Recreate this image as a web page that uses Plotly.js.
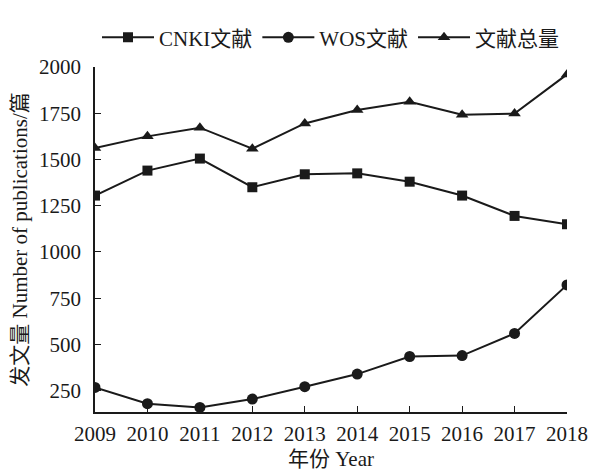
<!DOCTYPE html>
<html>
<head>
<meta charset="utf-8">
<script src="https://cdn.plot.ly/plotly-3.0.1.min.js"></script>
<style>
  html, body { margin: 0; padding: 0; background: #fff; }
  #divplot { width: 600px; height: 475px; }
</style>
</head>
<body>
<div id="divplot"></div>
<script>
var years = [2009, 2010, 2011, 2012, 2013, 2014, 2015, 2016, 2017, 2018];
var cnki = [1305, 1440, 1505, 1350, 1420, 1425, 1380, 1305, 1195, 1150];
var wos = [268, 180, 160, 205, 272, 340, 435, 440, 560, 822];
var total = [1562, 1625, 1672, 1558, 1695, 1768, 1812, 1742, 1748, 1960];
var tickVals = [250, 500, 750, 1000, 1250, 1500, 1750, 2000];

var fontFam = '"Liberation Serif", "Times New Roman", "Noto Sans CJK SC", serif';
var ink = '#1a1a1a';

var mkTrace = function(y, name, symbol, size){
    return {
        x: years,
        y: y,
        name: name,
        type: 'scatter',
        mode: 'lines+markers',
        line: {color: ink, width: 2},
        marker: {symbol: symbol, size: size, color: ink}
    };
};

var traceData = [
    mkTrace(cnki, 'CNKI文献', 'square', 10),
    mkTrace(wos, 'WOS文献', 'circle', 11),
    mkTrace(total, '文献总量', 'triangle-up', 11)
];

var layout = {
    width: 600,
    height: 475,
    margin: {l: 95, r: 33, t: 67, b: 63},
    paper_bgcolor: '#fff',
    plot_bgcolor: '#fff',
    font: {family: fontFam, size: 21, color: ink},
    showlegend: true,
    legend: {
        orientation: 'h',
        x: 0.5, xanchor: 'center',
        y: 1.085, yanchor: 'middle',
        font: {family: fontFam, size: 21, color: ink},
        itemwidth: 52
    },
    xaxis: {
        range: [2009, 2018],
        tickvals: years,
        ticks: 'inside',
        ticklen: 6,
        tickcolor: ink,
        showline: true,
        linecolor: ink,
        linewidth: 1.5,
        showgrid: false,
        zeroline: false,
        ticklabelstandoff: 2,
        title: {text: '年份 Year', font: {family: fontFam, size: 21, color: ink}, standoff: 6}
    },
    yaxis: {
        range: [135, 2000],
        tickvals: tickVals,
        ticks: 'inside',
        ticklen: 6,
        tickcolor: ink,
        showline: true,
        linecolor: ink,
        linewidth: 1.5,
        showgrid: false,
        zeroline: false,
        ticklabelstandoff: 8,
        title: {text: '发文量 Number of publications/篇', font: {family: fontFam, size: 21, color: ink}, standoff: 6}
    }
};

Plotly.newPlot('divplot', traceData, layout, {displayModeBar: false});
</script>
</body>
</html>
